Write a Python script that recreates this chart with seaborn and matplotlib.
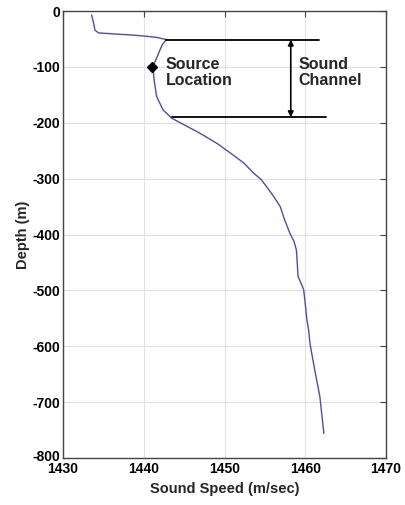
import numpy as np
import pandas as pd
import matplotlib
matplotlib.use("Agg")
import matplotlib.pyplot as plt
import matplotlib.transforms as mtransforms
import seaborn as sns

speed = [1433.55, 1433.8, 1433.96, 1434.4, 1436.5, 1438.7, 1440.3, 1441.6, 1442.8, 1442.3,
         1442.0, 1441.6, 1441.2, 1441.2, 1441.3, 1441.6, 1442.0, 1442.4, 1443.5, 1445.2,
         1447.0, 1449.2, 1451.1, 1452.4, 1453.6, 1454.5, 1455.2, 1456.0, 1456.9, 1457.4,
         1458.1, 1458.6, 1458.9, 1459.0, 1459.1, 1459.5, 1459.8, 1460.0, 1460.2, 1460.4,
         1460.6, 1461.2, 1461.8, 1462.3]
depth = [-7, -22, -34, -39, -41, -43, -45, -47, -51, -60,
         -70, -84, -97, -110, -125, -153, -165, -177, -192, -205,
         -219, -238, -258, -272, -290, -301, -314, -330, -350, -372,
         -398, -412, -428, -450, -475, -488, -499, -525, -553, -570,
         -597, -645, -690, -756]
source_speed, source_depth = 1441.0, -100
channel_top, channel_bottom = -51, -190
xticks = [1430, 1440, 1450, 1460, 1470]
yticks = [0, -100, -200, -300, -400, -500, -600, -700, -800]

sns.set_style("white")
plt.rcParams['font.family'] = ['Liberation Sans', 'DejaVu Sans']
plt.rcParams['font.weight'] = 'bold'
plt.rcParams['axes.unicode_minus'] = False

fig = plt.figure(figsize=(4.06, 5.05), dpi=100)
ax = fig.add_axes([0.155, 0.093, 0.796, 0.885])

df = pd.DataFrame({"speed": speed, "depth": depth})
sns.lineplot(data=df, x="speed", y="depth", sort=False, estimator=None, ax=ax,
             color="#4c4cb4", lw=1.0)
ax.plot([source_speed], [source_depth], marker="D", color="black", ms=5.5, ls="none")

ax.plot([1442.8, 1461.7], [channel_top, channel_top], color="black", lw=1.3)
ax.plot([1443.5, 1462.6], [channel_bottom, channel_bottom], color="black", lw=1.3)
ax.annotate("", xy=(1458.2, channel_top), xytext=(1458.2, channel_bottom),
            arrowprops=dict(arrowstyle="<|-|>", color="black", lw=1.2, mutation_scale=8,
                            shrinkA=0, shrinkB=0))
ax.text(1442.7, -110, "Source\nLocation", fontsize=11.5, fontweight="bold", va="center", ha="left",
        linespacing=1.15)
ax.text(1459.2, -110, "Sound\nChannel", fontsize=11.5, fontweight="bold", va="center", ha="left",
        linespacing=1.15)

ax.set_xlim(1430, 1470)
ax.set_ylim(-800, 0)
ax.set_xticks(xticks)
ax.set_yticks(yticks)
ax.grid(True, color="#e2e2e2", ls="-", lw=0.8)
ax.tick_params(direction="in", length=4, labelsize=10, top=True, right=True, width=0.8,
               colors="#444444", labelcolor="black", pad=2)
ax.tick_params(axis="x", pad=3)
for lab in ax.get_xticklabels() + ax.get_yticklabels():
    lab.set_fontweight("bold")
# nudge the bottom y label up slightly, as in the reference
ylabs = ax.get_yticklabels()
off = mtransforms.ScaledTranslation(0, 3 / 100, fig.dpi_scale_trans)
ylabs[-1].set_transform(ylabs[-1].get_transform() + off)
for s in ax.spines.values():
    s.set_color("#444444")
    s.set_linewidth(1.0)
ax.set_xlabel("Sound Speed (m/sec)", fontsize=10.5, fontweight="bold", labelpad=4)
ax.set_ylabel("Depth (m)", fontsize=10.5, fontweight="bold", labelpad=2)

fig.savefig("out.png", dpi=100)
